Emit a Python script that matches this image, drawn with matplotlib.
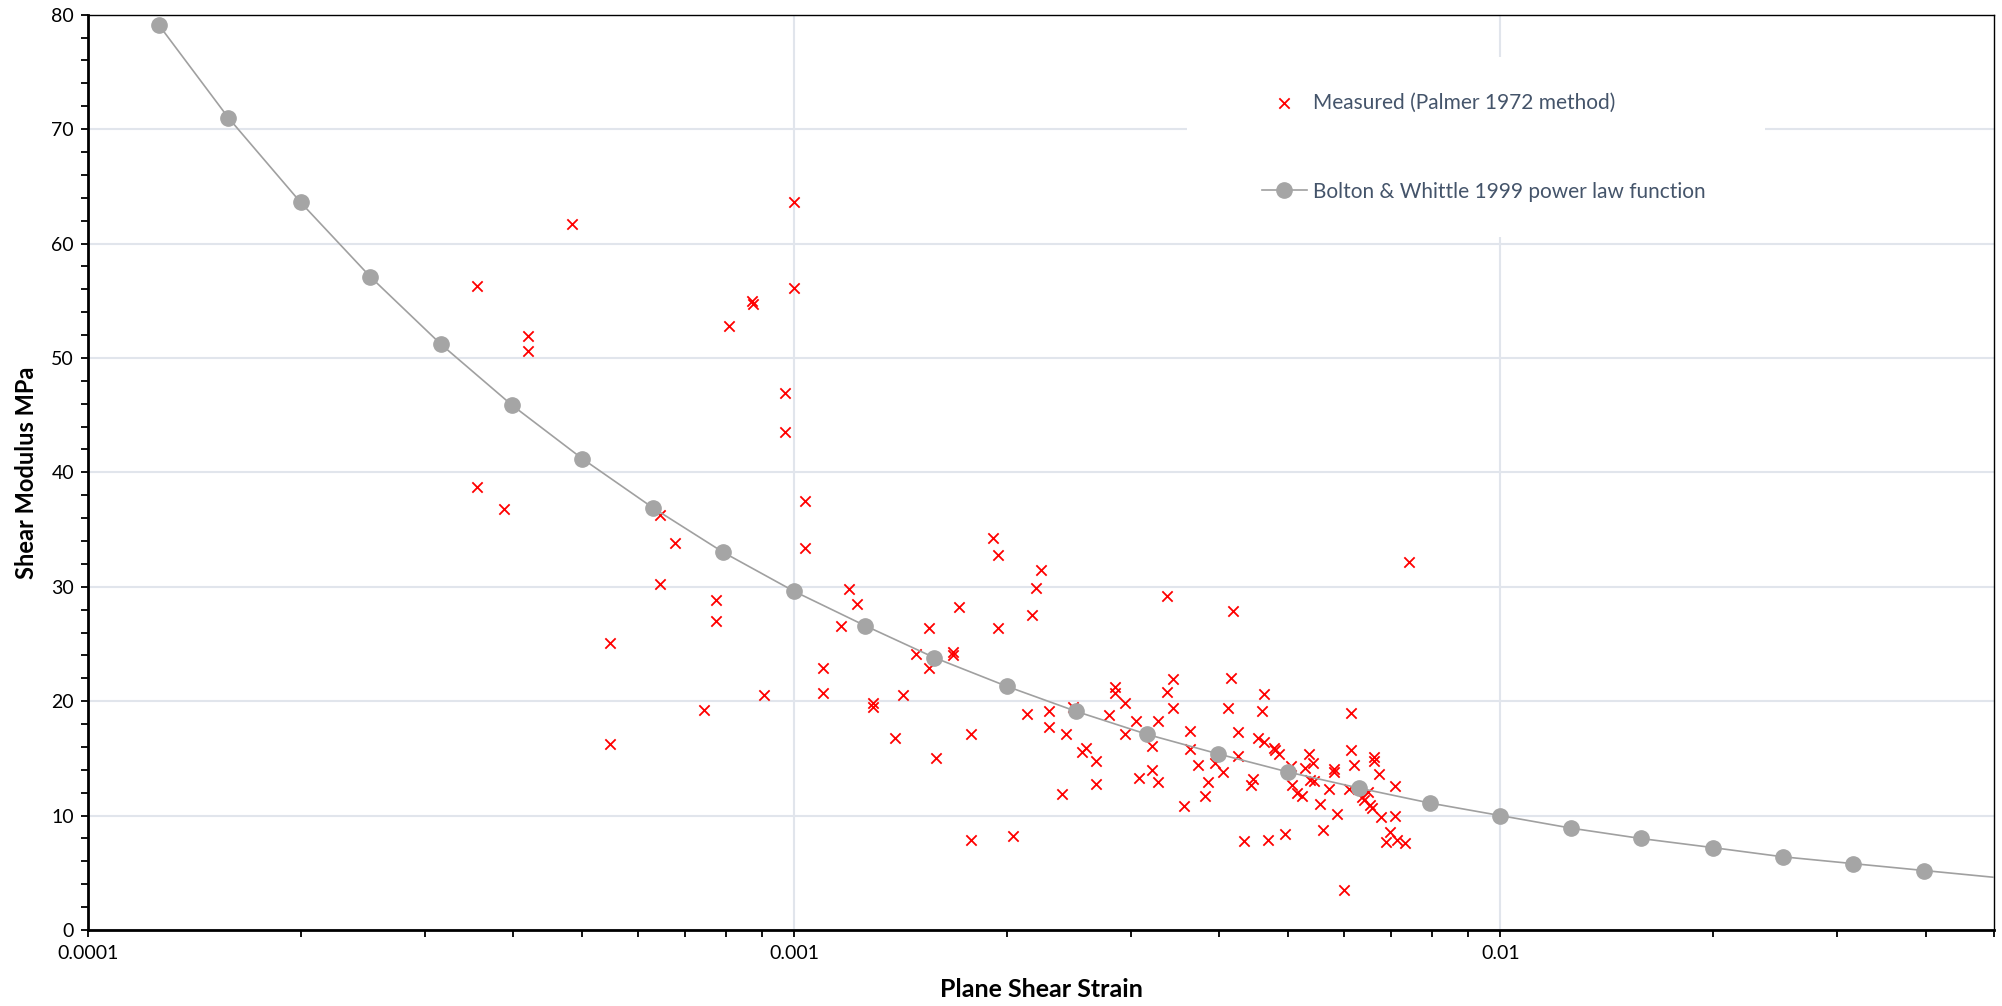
import matplotlib
matplotlib.use("Agg")
import matplotlib.pyplot as plt
from matplotlib.ticker import LogLocator, MultipleLocator, FixedFormatter, FixedLocator, NullFormatter
from matplotlib.patches import Rectangle

plt.rcParams['font.family'] = ['Lato', 'DejaVu Sans']

# measured points (Palmer 1972 method)
strain_meas = [
    0.000355, 0.000355, 0.000388, 0.00042, 0.00042, 0.000485, 0.000549, 0.000549,
    0.000646, 0.000646, 0.000679, 0.000744, 0.000775, 0.000775, 0.000808, 0.000871,
    0.000873, 0.000905, 0.00097, 0.00097, 0.001, 0.001, 0.001035, 0.001035,
    0.0011, 0.0011, 0.001164, 0.001197, 0.001228, 0.001294, 0.001294, 0.001389,
    0.001424, 0.001488, 0.001553, 0.001553, 0.001586, 0.001679, 0.001679, 0.001714,
    0.001779, 0.001779, 0.00191, 0.001944, 0.001944, 0.002038, 0.002136, 0.002168,
    0.0022, 0.002236, 0.002297, 0.002297, 0.002393, 0.002428, 0.002482, 0.002557,
    0.00259, 0.002678, 0.002678,
    0.002787, 0.002849, 0.002849, 0.002943, 0.002943, 0.003045, 0.003077, 0.003208,
    0.003208, 0.003273, 0.003273, 0.003368, 0.003368, 0.003434, 0.003434, 0.003565,
    0.003631, 0.003631, 0.003726, 0.003822, 0.003859, 0.003938, 0.004047, 0.004118,
    0.00415, 0.004182, 0.004251, 0.004251, 0.00434, 0.004439, 0.004464, 0.004542,
    0.0046, 0.004623, 0.004632, 0.004682,
    0.00478, 0.004801, 0.004853, 0.00496, 0.005058, 0.005069, 0.005152, 0.005236,
    0.005295, 0.005353, 0.005369, 0.005423, 0.005445, 0.005546, 0.005609, 0.005711,
    0.005819, 0.005819, 0.00587, 0.006012, 0.0061, 0.006138, 0.006138, 0.006207,
    0.006369, 0.006403, 0.00649, 0.006545, 0.00658, 0.006631, 0.006631, 0.006726,
    0.006785, 0.006887, 0.006985, 0.007085, 0.007085, 0.007141, 0.007319, 0.007418,
]
modulus_meas = [
    56.3, 38.7, 36.8, 51.9, 50.6, 61.7, 25.1, 16.3,
    36.3, 30.2, 33.8, 19.2, 28.8, 27.0, 52.8, 55.0,
    54.7, 20.5, 46.9, 43.5, 63.6, 56.1, 37.5, 33.4,
    22.9, 20.7, 26.6, 29.8, 28.5, 19.8, 19.5, 16.8,
    20.5, 24.1, 26.4, 22.9, 15.0, 24.3, 24.0, 28.2,
    17.1, 7.9, 34.3, 32.8, 26.4, 8.2, 18.9, 27.5,
    29.9, 31.5, 19.1, 17.7, 11.9, 17.1, 19.5, 15.6,
    15.9, 14.8, 12.8,
    18.8, 21.2, 20.7, 19.8, 17.1, 18.3, 13.3, 16.1,
    14.0, 18.3, 12.9, 29.2, 20.8, 21.9, 19.4, 10.8,
    17.4, 15.8, 14.4, 11.7, 12.9, 14.6, 13.8, 19.4,
    22.0, 27.9, 17.3, 15.2, 7.8, 12.7, 13.2, 16.8,
    19.1, 16.4, 20.6, 7.9,
    15.9, 15.7, 15.4, 8.4, 14.3, 12.7, 12.0, 11.7,
    14.2, 15.4, 13.1, 14.6, 13.0, 11.0, 8.7, 12.3,
    14.1, 13.8, 10.1, 3.5, 12.3, 19.0, 15.7, 14.4,
    11.6, 11.4, 12.1, 10.9, 10.7, 15.1, 14.8, 13.6,
    9.9, 7.7, 8.6, 12.6, 10.0, 7.9, 7.6, 32.2,
]

# Bolton & Whittle 1999 power law curve
strain_fit = [0.000126, 0.000158, 0.0002, 0.000251, 0.000316, 0.000398, 0.000501,
              0.000631, 0.000794, 0.001, 0.00126, 0.00158, 0.002, 0.00251, 0.00316,
              0.00398, 0.00501, 0.00631, 0.00794, 0.01, 0.0126, 0.0158, 0.02, 0.0251,
              0.0316, 0.0398, 0.0501]
modulus_fit = [79.1, 71.0, 63.6, 57.1, 51.2, 45.9, 41.2, 36.9, 33.0, 29.6, 26.6, 23.8,
               21.3, 19.1, 17.1, 15.4, 13.8, 12.4, 11.1, 10.0, 8.9, 8.0, 7.2, 6.4, 5.8,
               5.2, 4.6]

x_ticks = [0.0001, 0.001, 0.01]
x_tick_labels = ['0.0001', '0.001', '0.01']

fig = plt.figure(figsize=(20.02, 10.06), dpi=100)
ax = fig.add_axes([88 / 2002, 1 - 930 / 1006, 1906 / 2002, 915.3 / 1006])

ax.set_xscale('log')
ax.set_xlim(0.0001, 0.05)
ax.set_ylim(0, 80)

ax.scatter(strain_meas, modulus_meas, marker='x', s=55, color='#ff0000',
           linewidths=1.3, zorder=3, label='Measured (Palmer 1972 method)')
ax.plot(strain_fit, modulus_fit, color='#a0a0a0', lw=1.2, marker='o', ms=11,
        mfc='#a5a5a5', mec='#a5a5a5', markevery=list(range(len(strain_fit) - 1)),
        zorder=4, label='Bolton & Whittle 1999 power law function')

# grid
ax.set_axisbelow(True)
ax.grid(True, which='major', color='#e1e5ec', lw=1.5)
ax.xaxis.set_major_locator(FixedLocator(x_ticks))
ax.xaxis.set_major_formatter(FixedFormatter(x_tick_labels))
ax.xaxis.set_minor_locator(LogLocator(base=10, subs=range(2, 10)))
ax.xaxis.set_minor_formatter(NullFormatter())
ax.yaxis.set_major_locator(MultipleLocator(10))
ax.yaxis.set_minor_locator(MultipleLocator(2))

ax.tick_params(which='both', direction='out', length=5, width=1.3, color='black',
               labelsize=14, labelcolor='black')
ax.tick_params(axis='x', which='both', pad=6)
ax.tick_params(axis='y', which='both', pad=5)

for side in ['left', 'bottom']:
    ax.spines[side].set_linewidth(2.0)
    ax.spines[side].set_color('black')
for side in ['top', 'right']:
    ax.spines[side].set_linewidth(1.0)
    ax.spines[side].set_color('black')

ax.set_xlabel('Plane Shear Strain', fontsize=18, fontweight='bold')
ax.set_ylabel('Shear Modulus MPa', fontsize=17, fontweight='bold')
ax.xaxis.set_label_coords(0.5, -0.052)
ax.yaxis.set_label_coords(-0.026, 0.5)

# white box behind the legend
ax.add_patch(Rectangle((0.5766, 0.757), 0.3034, 0.197, transform=ax.transAxes,
                       facecolor='white', edgecolor='none', zorder=1.5))

leg = ax.legend(loc='upper left', bbox_to_anchor=(0.6157, 0.9145), frameon=False,
                fontsize=15, labelspacing=3.3, handlelength=2.2,
                handletextpad=0.25, borderpad=0, borderaxespad=0)
for t in leg.get_texts():
    t.set_color('#44546a')

fig.savefig('out.png', dpi=100)
